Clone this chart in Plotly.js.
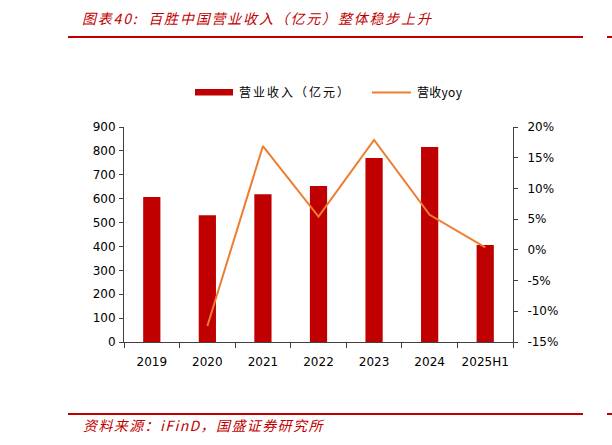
<!DOCTYPE html>
<html>
<head>
<meta charset="utf-8">
<script src="https://cdn.plot.ly/plotly-3.0.1.min.js"></script>
<style>html,body{margin:0;padding:0;background:#fff;}#chart{width:612px;height:445px;}</style>
</head>
<body>
<div id="chart"></div>
<script>
var categories = ['2019', '2020', '2021', '2022', '2023', '2024', '2025H1'];
var revenue = [607, 531, 619, 653, 770, 816, 406];
var yoyYears = ['2020', '2021', '2022', '2023', '2024', '2025H1'];
var yoy = [-12.4, 16.9, 5.4, 17.9, 5.7, 0.4];
var leftTicks = [0, 100, 200, 300, 400, 500, 600, 700, 800, 900];
var rightTicks = [-15, -10, -5, 0, 5, 10, 15, 20];
var rightTickText = ['-15%', '-10%', '-5%', '0%', '5%', '10%', '15%', '20%'];
var seriesNames = ['营业收入（亿元）', '营收yoy'];
var titleText = '图表40:  百胜中国营业收入（亿元）整体稳步上升';
var sourceText = '资料来源：iFinD，国盛证券研究所';

var L = 124, R = 513, T = 127, B = 342, W = 612, H = 445;
function px(x) { return (x - L) / (R - L); }
function py(y) { return (B - y) / (B - T); }

var tickFont = {family: 'DejaVu Sans, Verdana, sans-serif', size: 12, color: '#000'};
var cjk = 'Noto Sans CJK SC, sans-serif';
var red = '#C00000';
var orange = '#ED7D31';
var axisColor = '#404040';

var traces = [
  {type: 'bar', x: categories, y: revenue, name: seriesNames[0],
   marker: {color: red}, yaxis: 'y'},
  {type: 'scatter', mode: 'lines', x: yoyYears, y: yoy, name: seriesNames[1],
   line: {color: orange, width: 2}, yaxis: 'y2'}
];

var layout = {
  width: W, height: H,
  margin: {l: L, r: W - R, t: T, b: H - B, pad: 0},
  paper_bgcolor: '#fff', plot_bgcolor: '#fff',
  bargap: 0.69,
  showlegend: false,
  xaxis: {type: 'category', showline: true, linecolor: axisColor, linewidth: 1,
          ticks: 'outside', tickson: 'boundaries', ticklen: 5, tickcolor: axisColor,
          tickfont: tickFont, tickangle: 0, ticklabelstandoff: 9, showgrid: false, zeroline: false},
  yaxis: {range: [0, 900], tickvals: leftTicks, showline: true, linecolor: axisColor,
          ticks: 'outside', ticklen: 4, tickcolor: axisColor, tickfont: tickFont,
          ticklabelstandoff: 1, showgrid: false, zeroline: false},
  yaxis2: {range: [-15, 20], overlaying: 'y', side: 'right', tickvals: rightTicks,
           ticktext: rightTickText, showline: true, linecolor: axisColor,
           ticks: 'outside', ticklen: 4, tickcolor: axisColor, tickfont: tickFont,
           ticklabelstandoff: 7, showgrid: false, zeroline: false},
  shapes: [
    {type: 'line', xref: 'paper', yref: 'paper', x0: px(68), x1: px(583), y0: py(37), y1: py(37),
     line: {color: red, width: 2}},
    {type: 'line', xref: 'paper', yref: 'paper', x0: px(607), x1: px(612), y0: py(37), y1: py(37),
     line: {color: red, width: 2}},
    {type: 'line', xref: 'paper', yref: 'paper', x0: px(68), x1: px(583), y0: py(414), y1: py(414),
     line: {color: red, width: 2}},
    {type: 'line', xref: 'paper', yref: 'paper', x0: px(607), x1: px(612), y0: py(414), y1: py(414),
     line: {color: red, width: 2}},
    {type: 'rect', xref: 'paper', yref: 'paper', x0: px(195), x1: px(233), y0: py(89), y1: py(95.5),
     line: {width: 0}, fillcolor: red},
    {type: 'line', xref: 'paper', yref: 'paper', x0: px(372), x1: px(411), y0: py(92.5), y1: py(92.5),
     line: {color: orange, width: 2}}
  ],
  annotations: [
    {xref: 'paper', yref: 'paper', x: px(80), y: py(18), xanchor: 'left', yanchor: 'middle', align: 'left',
     text: '<i>' + titleText + '</i>', showarrow: false,
     font: {family: cjk, size: 14, color: red}},
    {xref: 'paper', yref: 'paper', x: px(81), y: py(425), xanchor: 'left', yanchor: 'middle', align: 'left',
     text: '<i>' + sourceText + '</i>', showarrow: false,
     font: {family: cjk, size: 14, color: red}},
    {xref: 'paper', yref: 'paper', x: px(237), y: py(92), xanchor: 'left', yanchor: 'middle', align: 'left',
     text: seriesNames[0], showarrow: false,
     font: {family: cjk, size: 12, color: '#000'}},
    {xref: 'paper', yref: 'paper', x: px(415), y: py(92), xanchor: 'left', yanchor: 'middle', align: 'left',
     text: seriesNames[1], showarrow: false,
     font: {family: cjk, size: 12, color: '#000'}}
  ]
};

Plotly.newPlot('chart', traces, layout, {staticPlot: true, displayModeBar: false}).then(function (gd) {
  var spacing = {'0': '1.8px', '1': '1.4px', '2': '2px', '3': '0.3px'};
  var groups = gd.querySelectorAll('g.annotation');
  groups.forEach(function (g) {
    var idx = g.getAttribute('data-index');
    var t = g.querySelector('text');
    if (t && spacing[idx]) t.style.letterSpacing = spacing[idx];
  });
});
</script>
</body>
</html>
